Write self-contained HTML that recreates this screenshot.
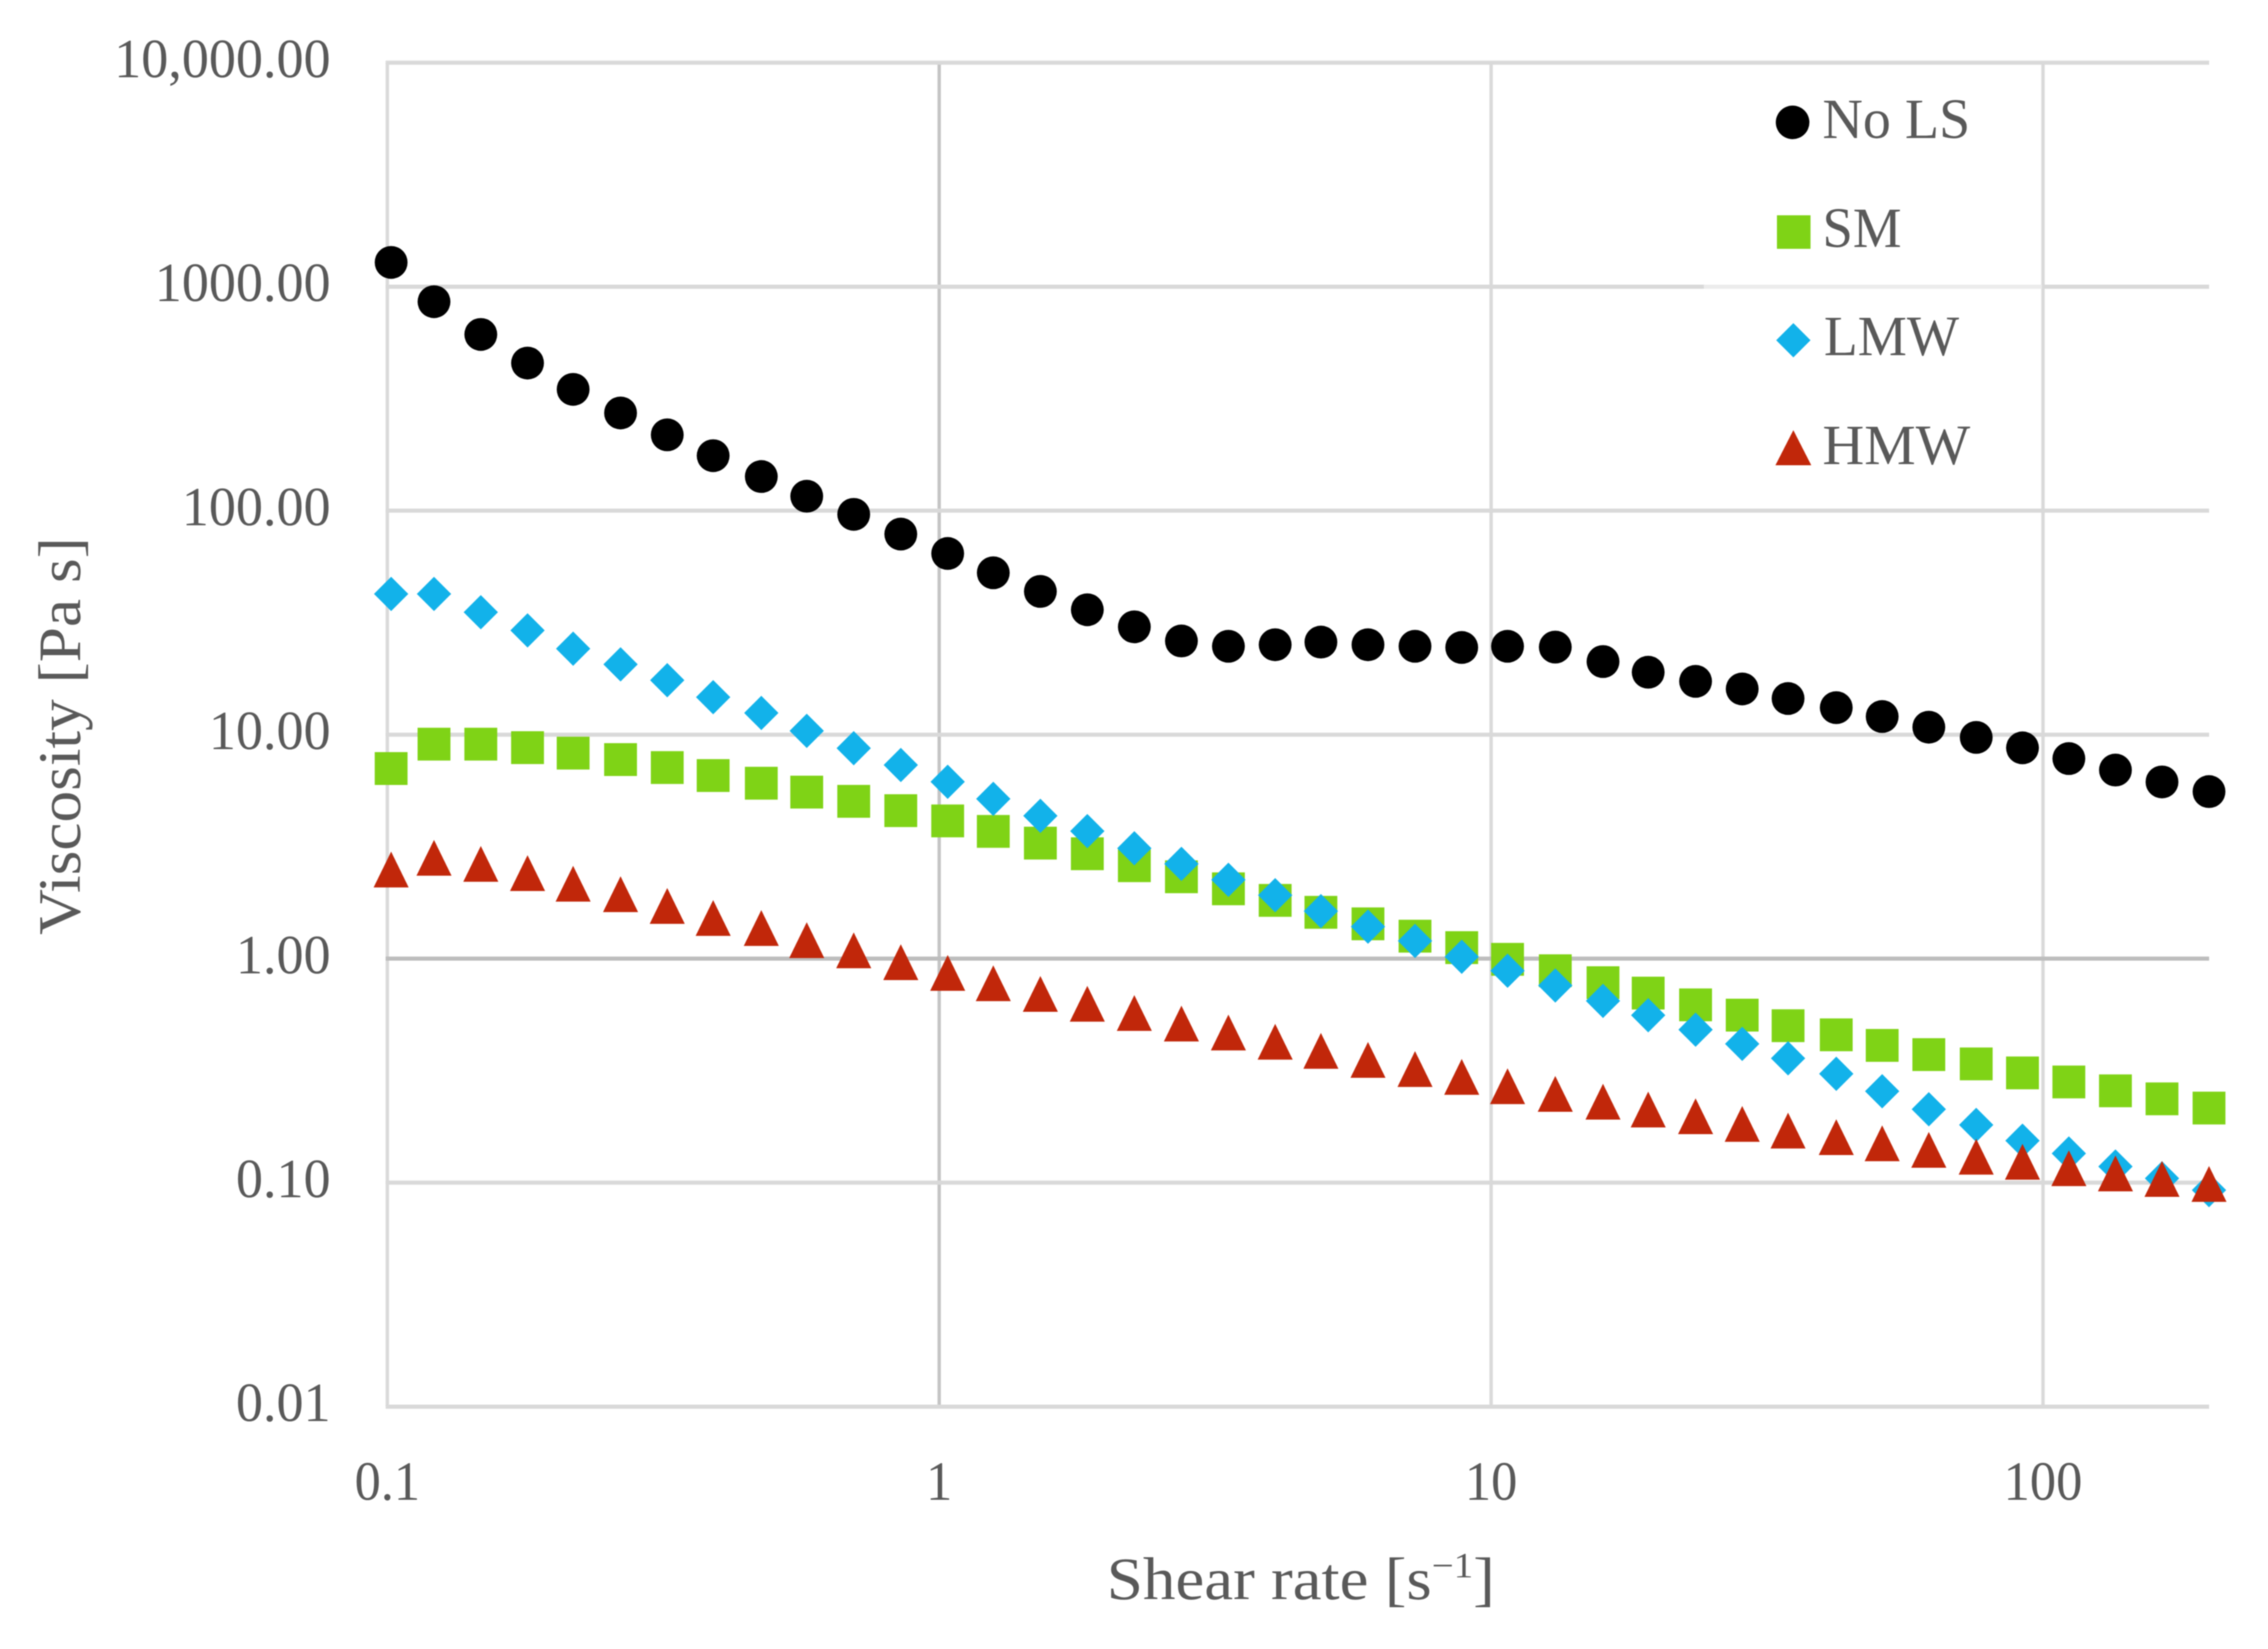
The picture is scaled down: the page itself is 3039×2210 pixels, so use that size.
<!DOCTYPE html>
<html lang="en">
<head>
<meta charset="utf-8">
<title>Viscosity versus shear rate</title>
<style>
html,body{margin:0;padding:0;background:#fff;width:3039px;height:2210px;overflow:hidden}
svg{display:block;filter:blur(0.7px)}
text{font-family:"Liberation Serif","DejaVu Serif",serif;fill:#595959}
</style>
</head>
<body>
<svg id="chart" xmlns="http://www.w3.org/2000/svg" width="3039" height="2210" viewBox="0 0 3039 2210">
  <rect x="0" y="0" width="3039" height="2210" fill="#ffffff"/>
  <g id="grid"></g>
  <g id="ticks"></g>
  <g id="marks"></g>
  <text transform="translate(107,1253) rotate(-90)" font-size="80" textLength="533" lengthAdjust="spacingAndGlyphs">Viscosity [Pa s]</text>
  <text x="1483" y="2143" font-size="80" textLength="520" lengthAdjust="spacingAndGlyphs">Shear rate [s<tspan font-size="48" dy="-29">−1</tspan><tspan dy="29">]</tspan></text>
  <g>
    <g>
      <ellipse cx="2402" cy="164" rx="22.5" ry="22.5" fill="#000000"/>
      <text x="2442" y="185" font-size="76" textLength="198" lengthAdjust="spacingAndGlyphs">No LS</text>
    </g>
    <g>
      <rect x="2381" y="288.5" width="45" height="45" fill="#7fd316"/>
      <text x="2442" y="331" font-size="76" textLength="106" lengthAdjust="spacingAndGlyphs">SM</text>
    </g>
    <g>
      <polygon points="2403,433 2426,456 2403,479 2380,456" fill="#12b2ea"/>
      <text x="2444" y="476" font-size="76" textLength="181" lengthAdjust="spacingAndGlyphs">LMW</text>
    </g>
    <g>
      <polygon points="2403,576.5 2427,623.5 2379,623.5" fill="#c1270a"/>
      <text x="2442" y="622" font-size="76" textLength="198" lengthAdjust="spacingAndGlyphs">HMW</text>
    </g>
  </g>
</svg>
<script>
const shearRate = [0.1016,0.1215,0.1477,0.1795,0.2171,0.2646,0.3215,0.3894,0.476,0.5754,0.7,0.8519,1.036,1.253,1.525,1.855,2.257,2.747,3.342,4.062,4.916,5.983,7.28,8.846,10.71,13.07,15.95,19.26,23.47,28.51,34.52,42.21,51.12,62.1,75.68,91.8,111.4,135.3,164.3,199.9];
const noLS = [1283,857,612,456,348,273,218,176,142,116,96.3,78.6,64.4,52.8,43.6,36.1,30.3,26.2,24.8,25.2,25.9,25.2,24.8,24.5,24.8,24.6,21.2,19.0,17.3,16.0,14.5,13.2,12.05,10.8,9.72,8.73,7.82,6.95,6.15,5.57];
const sm = [7.06,9.07,9.07,8.75,8.27,7.74,7.13,6.57,6.07,5.54,5.04,4.58,4.12,3.70,3.28,2.94,2.60,2.32,2.05,1.82,1.61,1.43,1.26,1.12,0.993,0.883,0.781,0.702,0.622,0.5595,0.502,0.457,0.410,0.373,0.339,0.309,0.2815,0.257,0.2367,0.2153];
const lmw = [42.5,42.5,35.2,29.2,24.2,20.6,17.5,14.7,12.5,10.4,8.70,7.32,6.16,5.17,4.34,3.71,3.11,2.65,2.25,1.92,1.63,1.39,1.20,1.02,0.883,0.759,0.648,0.559,0.482,0.4165,0.359,0.306,0.256,0.2126,0.181,0.154,0.135,0.118,0.1045,0.0926];
const hmw = [2.50,2.82,2.65,2.41,2.16,1.94,1.72,1.52,1.37,1.21,1.09,0.965,0.864,0.777,0.696,0.629,0.572,0.5135,0.468,0.4256,0.3875,0.353,0.3216,0.2965,0.2696,0.249,0.2298,0.212,0.198,0.183,0.1708,0.1597,0.1498,0.1401,0.1305,0.124,0.116,0.110,0.1039,0.0987];
const yTickValues = [10000,1000,100,10,1,0.1,0.01];
const yTickLabels = ["10,000.00","1000.00","100.00","10.00","1.00","0.10","0.01"];
const xTickValues = [0.1,1,10,100];
const xTickLabels = ["0.1","1","10","100"];

const NS = "http://www.w3.org/2000/svg";
const xScale = v => 1258.5 + 739.5 * Math.log10(v);
const yScale = v => 84 + 300.2 * (4 - Math.log10(v));
const plotLeft = xScale(0.1);
const plotRight = xScale(200);
const plotTop = yScale(10000);
const plotBottom = yScale(0.01);
const grid = document.getElementById("grid");
const ticks = document.getElementById("ticks");
const marks = document.getElementById("marks");

function make(tag, attrs) {
  const el = document.createElementNS(NS, tag);
  for (const k in attrs) el.setAttribute(k, attrs[k]);
  return el;
}

xTickValues.forEach((v, i) => {
  const strong = v === 1;
  const line = make("line", {x1: xScale(v), x2: xScale(v), y1: plotTop, y2: plotBottom, stroke: strong ? "#c4c4c4" : "#d9d9d9", "stroke-width": 4.5});
  
  
  grid.appendChild(line);
  const label = make("text", {x: 0, y: 0, "font-size": 74, "text-anchor": "middle", transform: `translate(${xScale(v)},2010) scale(0.95,1)`});
  
  
  label.textContent = xTickLabels[i];
  ticks.appendChild(label);
});

yTickValues.forEach((v, i) => {
  const strong = v === 1;
  const line = make("line", {x1: plotLeft - 2.25, x2: plotRight, y1: yScale(v), y2: yScale(v), stroke: strong ? "#bdbdbd" : "#d9d9d9", "stroke-width": 5.5});
  
  
  grid.appendChild(line);
  const label = make("text", {x: 0, y: 0, "font-size": 74, "text-anchor": "end", transform: `translate(443,${yScale(v) + 19.5}) scale(0.98,1)`});
  
  
  label.textContent = yTickLabels[i];
  ticks.appendChild(label);
});

/* the legend box partly veils the 1000 gridline */
const veil = make("line", {x1: 2283, x2: 2736, y1: yScale(1000), y2: yScale(1000), stroke: "#ececec", "stroke-width": 5.5});


grid.appendChild(veil);

function circleMark(x, y) { return make("circle", {cx: x, cy: y, r: 22, fill: "#000000"}); }
function squareMark(x, y) { return make("rect", {x: x - 22, y: y - 22, width: 44, height: 44, fill: "#7fd316"}); }
function diamondMark(x, y) { return make("polygon", {points: `${x},${y - 23} ${x + 23},${y} ${x},${y + 23} ${x - 23},${y}`, fill: "#12b2ea"}); }
function triangleMark(x, y) { return make("polygon", {points: `${x},${y - 24} ${x + 23.5},${y + 24} ${x - 23.5},${y + 24}`, fill: "#c1270a"}); }

noLS.forEach((v, i) => {
  const m = circleMark(xScale(shearRate[i]), yScale(v));
  
  
  marks.appendChild(m);
});
sm.forEach((v, i) => {
  const m = squareMark(xScale(shearRate[i]), yScale(v));
  
  
  marks.appendChild(m);
});
lmw.forEach((v, i) => {
  const m = diamondMark(xScale(shearRate[i]), yScale(v));
  
  
  marks.appendChild(m);
});
hmw.forEach((v, i) => {
  const m = triangleMark(xScale(shearRate[i]), yScale(v));
  
  
  marks.appendChild(m);
});
</script>
</body>
</html>
